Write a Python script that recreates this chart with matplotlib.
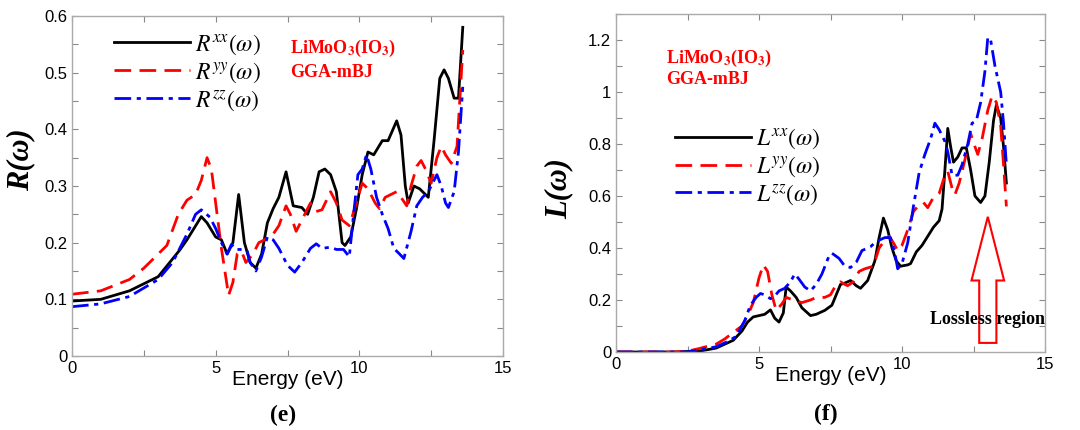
import matplotlib
matplotlib.use("Agg")
import matplotlib.pyplot as plt
from matplotlib.ticker import MultipleLocator, FuncFormatter
from matplotlib.patches import Polygon

plt.rcParams['font.family'] = ['Liberation Sans', 'DejaVu Sans']
plt.rcParams['mathtext.fontset'] = 'stix'

# ---------------- Panel (e): reflectivity ----------------
e_xx = [0, 1, 2, 3, 3.75, 4.0, 4.5, 4.7, 5.0, 5.2, 5.4, 5.6, 5.8, 6.0, 6.2, 6.4, 6.6, 6.8, 7.0, 7.2,
        7.45, 7.7, 8.0, 8.2, 8.4, 8.6, 8.8, 9.0, 9.2, 9.4, 9.5, 9.7, 9.9, 10.1, 10.3, 10.5, 10.8,
        11.0, 11.3, 11.45, 11.6, 11.7, 11.9, 12.1, 12.3, 12.4, 12.6, 12.8, 12.95, 13.1, 13.3, 13.45, 13.6]
R_xx = [0.097, 0.100, 0.115, 0.140, 0.187, 0.205, 0.246, 0.235, 0.210, 0.205, 0.180, 0.200, 0.285, 0.200,
        0.165, 0.155, 0.180, 0.235, 0.260, 0.280, 0.325, 0.265, 0.262, 0.250, 0.280, 0.325, 0.330, 0.320,
        0.290, 0.200, 0.195, 0.210, 0.260, 0.320, 0.360, 0.355, 0.380, 0.380, 0.415, 0.390, 0.300, 0.270,
        0.300, 0.295, 0.285, 0.280, 0.380, 0.490, 0.505, 0.490, 0.455, 0.455, 0.580]

e_yy = [0, 1, 2, 2.5, 3.0, 3.3, 3.7, 4.0, 4.3, 4.5, 4.7, 4.85, 5.0, 5.2, 5.45, 5.6, 5.75, 5.9, 6.05,
        6.3, 6.5, 6.7, 7.0, 7.2, 7.45, 7.6, 7.8, 8.0, 8.3, 8.5, 8.7, 9.0, 9.2, 9.4, 9.65, 9.9, 10.1,
        10.3, 10.55, 10.7, 10.9, 11.1, 11.3, 11.45, 11.65, 11.8, 12.0, 12.15, 12.3, 12.5, 12.7, 12.85,
        13.0, 13.2, 13.4, 13.6]
R_yy = [0.109, 0.115, 0.135, 0.155, 0.180, 0.195, 0.250, 0.275, 0.285, 0.310, 0.350, 0.330, 0.270, 0.190,
        0.107, 0.130, 0.180, 0.185, 0.165, 0.180, 0.200, 0.205, 0.215, 0.230, 0.265, 0.250, 0.220, 0.240,
        0.270, 0.255, 0.258, 0.290, 0.270, 0.240, 0.230, 0.270, 0.305, 0.295, 0.270, 0.260, 0.280, 0.285,
        0.290, 0.280, 0.265, 0.300, 0.335, 0.345, 0.330, 0.305, 0.350, 0.370, 0.355, 0.340, 0.370, 0.540]

e_zz = [0, 1, 2, 3, 3.5, 4.0, 4.3, 4.5, 4.8, 5.0, 5.2, 5.4, 5.55, 5.7, 6.0, 6.1, 6.2, 6.4, 6.6, 6.8,
        7.0, 7.2, 7.5, 7.75, 8.0, 8.3, 8.5, 8.7, 9.0, 9.2, 9.45, 9.65, 9.8, 9.95, 10.1, 10.25, 10.4,
        10.6, 10.8, 11.0, 11.2, 11.4, 11.55, 11.8, 12.0, 12.2, 12.4, 12.6, 12.7, 12.85, 13.0, 13.1,
        13.3, 13.45, 13.6]
R_zz = [0.087, 0.092, 0.105, 0.135, 0.165, 0.215, 0.250, 0.258, 0.245, 0.225, 0.200, 0.180, 0.197, 0.188,
        0.188, 0.185, 0.165, 0.150, 0.175, 0.210, 0.205, 0.190, 0.160, 0.148, 0.165, 0.190, 0.198, 0.190,
        0.192, 0.188, 0.188, 0.175, 0.250, 0.320, 0.330, 0.355, 0.330, 0.280, 0.250, 0.225, 0.190, 0.180,
        0.172, 0.220, 0.265, 0.280, 0.290, 0.310, 0.320, 0.300, 0.270, 0.262, 0.290, 0.360, 0.475]

# ---------------- Panel (f): energy loss ----------------
f_xx = [0, 1, 2, 2.5, 3.0, 3.5, 3.8, 4.1, 4.4, 4.6, 4.8, 5.0, 5.2, 5.4, 5.55, 5.7, 5.85, 5.95, 6.1,
        6.3, 6.5, 6.8, 7.0, 7.3, 7.55, 7.7, 7.85, 8.0, 8.2, 8.4, 8.55, 8.8, 9.05, 9.2, 9.35, 9.5, 9.65,
        9.8, 9.95, 10.2, 10.3, 10.5, 10.7, 10.9, 11.1, 11.3, 11.4, 11.5, 11.6, 11.7, 11.8, 11.95, 12.1,
        12.25, 12.4, 12.55, 12.75, 12.9, 13.05, 13.2, 13.3, 13.45, 13.55, 13.65]
L_xx = [0, 0, 0, 0.002, 0.005, 0.015, 0.030, 0.045, 0.080, 0.115, 0.135, 0.140, 0.145, 0.162, 0.130,
        0.115, 0.150, 0.250, 0.235, 0.210, 0.170, 0.140, 0.145, 0.160, 0.180, 0.220, 0.260, 0.265, 0.275,
        0.255, 0.245, 0.275, 0.350, 0.440, 0.515, 0.470, 0.400, 0.350, 0.330, 0.335, 0.340, 0.385, 0.410,
        0.445, 0.480, 0.505, 0.550, 0.700, 0.860, 0.790, 0.730, 0.750, 0.785, 0.785, 0.700, 0.600, 0.575,
        0.600, 0.730, 0.890, 0.950, 0.900, 0.790, 0.650]

f_yy = [0, 1, 2, 2.5, 2.9, 3.2, 3.5, 3.8, 4.1, 4.4, 4.6, 4.8, 5.0, 5.15, 5.3, 5.45, 5.6, 5.8, 5.95,
        6.2, 6.5, 6.8, 7.0, 7.3, 7.5, 7.7, 7.85, 8.0, 8.1, 8.3, 8.5, 8.7, 9.0, 9.2, 9.4, 9.55, 9.7,
        9.85, 10.0, 10.2, 10.4, 10.55, 10.75, 10.9, 11.1, 11.3, 11.5, 11.6, 11.75, 11.85, 12.0, 12.2,
        12.4, 12.55, 12.65, 12.8, 13.0, 13.15, 13.3, 13.45, 13.55, 13.65]
L_yy = [0, 0, 0, 0.003, 0.013, 0.022, 0.030, 0.050, 0.075, 0.100, 0.140, 0.190, 0.285, 0.335, 0.310,
        0.220, 0.160, 0.185, 0.210, 0.200, 0.190, 0.200, 0.210, 0.210, 0.220, 0.260, 0.270, 0.260, 0.255,
        0.270, 0.310, 0.320, 0.330, 0.400, 0.430, 0.445, 0.420, 0.390, 0.410, 0.470, 0.540, 0.560, 0.575,
        0.555, 0.595, 0.610, 0.680, 0.695, 0.630, 0.605, 0.650, 0.740, 0.840, 0.790, 0.760, 0.820, 0.930,
        0.985, 0.960, 0.870, 0.720, 0.560]

f_zz = [0, 1, 2, 2.5, 3.0, 3.5, 3.9, 4.2, 4.5, 4.7, 4.9, 5.05, 5.2, 5.4, 5.55, 5.7, 5.9, 6.1, 6.25,
        6.4, 6.6, 6.8, 7.0, 7.2, 7.45, 7.55, 7.8, 8.0, 8.2, 8.4, 8.6, 8.9, 9.1, 9.4, 9.6, 9.75, 9.85,
        10.0, 10.2, 10.4, 10.6, 10.8, 11.0, 11.15, 11.3, 11.5, 11.6, 11.75, 11.95, 12.1, 12.3, 12.45,
        12.6, 12.75, 12.9, 13.0, 13.1, 13.25, 13.45, 13.55, 13.65]
L_zz = [0, 0, 0, 0, 0.010, 0.020, 0.040, 0.060, 0.120, 0.180, 0.210, 0.225, 0.220, 0.205, 0.215, 0.235,
        0.245, 0.270, 0.300, 0.280, 0.250, 0.235, 0.260, 0.300, 0.370, 0.380, 0.360, 0.330, 0.325, 0.345,
        0.390, 0.405, 0.425, 0.440, 0.440, 0.380, 0.320, 0.340, 0.420, 0.560, 0.690, 0.760, 0.820, 0.880,
        0.855, 0.810, 0.770, 0.680, 0.680, 0.720, 0.800, 0.880, 0.890, 0.960, 1.080, 1.210, 1.200, 1.100,
        1.000, 0.880, 0.720]

xlabel = "Energy (eV)"
R_labels = [r"$R^{xx}(\omega)$", r"$R^{yy}(\omega)$", r"$R^{zz}(\omega)$"]
L_labels = [r"$L^{xx}(\omega)$", r"$L^{yy}(\omega)$", r"$L^{zz}(\omega)$"]
compound = r"LiMoO$_\mathbf{3}$(IO$_\mathbf{3}$)"
method = "GGA-mBJ"

styles = [dict(color='black', ls='-', lw=2.0),
          dict(color='red', ls=(0, (6, 3)), lw=2.0),
          dict(color='blue', ls=(0, (6, 2, 1.5, 2)), lw=2.0)]

fig = plt.figure(figsize=(10.8, 4.3), dpi=100)
axL = fig.add_axes([72/1080, 74/430, 431/1080, 340/430])
axR = fig.add_axes([616/1080, 78/430, 429/1080, 338/430])

fmt = FuncFormatter(lambda v, p: f"{v:g}")
serif = ['Liberation Serif', 'DejaVu Serif']


def style_axes(ax, ymax, ymajor, yminor):
    ax.set_xlim(0, 15)
    ax.set_ylim(0, ymax)
    ax.xaxis.set_major_locator(MultipleLocator(5))
    ax.xaxis.set_minor_locator(MultipleLocator(2.5))
    ax.yaxis.set_major_locator(MultipleLocator(ymajor))
    ax.yaxis.set_minor_locator(MultipleLocator(yminor))
    ax.yaxis.set_major_formatter(fmt)
    ax.xaxis.set_major_formatter(fmt)
    ax.tick_params(which='both', direction='in', top=True, right=True,
                   color='#888888', labelsize=12, length=4, width=0.8)
    ax.tick_params(which='minor', length=4)
    for s in ax.spines.values():
        s.set_color('#aaaaaa')
        s.set_linewidth(1.0)
    ax.set_xlabel(xlabel, fontsize=15)
    ax.xaxis.set_label_coords(0.5, -0.042)


# Panel (e)
for x, y, lab, st in zip([e_xx, e_yy, e_zz], [R_xx, R_yy, R_zz], R_labels, styles):
    axL.plot(x, y, label=lab, **st)
style_axes(axL, 0.6, 0.1, 0.05)
axL.set_ylabel("R(ω)", fontsize=22, fontstyle='italic', fontweight='bold', family=serif)
axL.yaxis.set_label_coords(-0.086, 0.576)
axL.legend(loc='upper left', bbox_to_anchor=(0.06, 1.0), frameon=False, fontsize=17,
           handlelength=3.2, handletextpad=0.2, labelspacing=0.14, borderaxespad=0.3)
axL.text(0.505, 0.905, compound, transform=axL.transAxes, color='red', fontsize=13,
         fontweight='bold', family=serif, va='center', ha='left')
axL.text(0.505, 0.835, method, transform=axL.transAxes, color='red', fontsize=13,
         fontweight='bold', family=serif, va='center', ha='left')
axL.text(0.49, -0.175, "(e)", transform=axL.transAxes, fontsize=17, fontweight='bold',
         family=serif, ha='center', va='center')

# Panel (f)
for x, y, lab, st in zip([f_xx, f_yy, f_zz], [L_xx, L_yy, L_zz], L_labels, styles):
    axR.plot(x, y, label=lab, **st)
style_axes(axR, 1.3, 0.2, 0.1)
axR.set_ylabel("L(ω)", fontsize=22, fontstyle='italic', fontweight='bold', family=serif)
axR.yaxis.set_label_coords(-0.10, 0.485)
axR.legend(loc='upper left', bbox_to_anchor=(0.1, 0.715), frameon=False, fontsize=17,
           handlelength=3.2, handletextpad=0.2, labelspacing=0.14, borderaxespad=0.3)
axR.text(0.117, 0.87, compound, transform=axR.transAxes, color='red', fontsize=13,
         fontweight='bold', family=serif, va='center', ha='left')
axR.text(0.117, 0.805, method, transform=axR.transAxes, color='red', fontsize=13,
         fontweight='bold', family=serif, va='center', ha='left')
axR.text(0.49, -0.185, "(f)", transform=axR.transAxes, fontsize=17, fontweight='bold',
         family=serif, ha='center', va='center')

# hollow "lossless region" arrow
ax_c, shaft_hw, head_hw = 13.0, 0.3, 0.57
y_base, y_headbase, y_tip = 0.035, 0.275, 0.52
arrow = Polygon([(ax_c - shaft_hw, y_base), (ax_c + shaft_hw, y_base), (ax_c + shaft_hw, y_headbase),
                 (ax_c + head_hw, y_headbase), (ax_c, y_tip), (ax_c - head_hw, y_headbase),
                 (ax_c - shaft_hw, y_headbase)], closed=True, facecolor='none',
                edgecolor='red', lw=1.5, zorder=3)
axR.add_patch(arrow)
axR.text(13.0, 0.125, "Lossless region", fontsize=13, fontweight='bold', family=serif,
         ha='center', va='center', zorder=4)

fig.savefig("out.png", dpi=100)
